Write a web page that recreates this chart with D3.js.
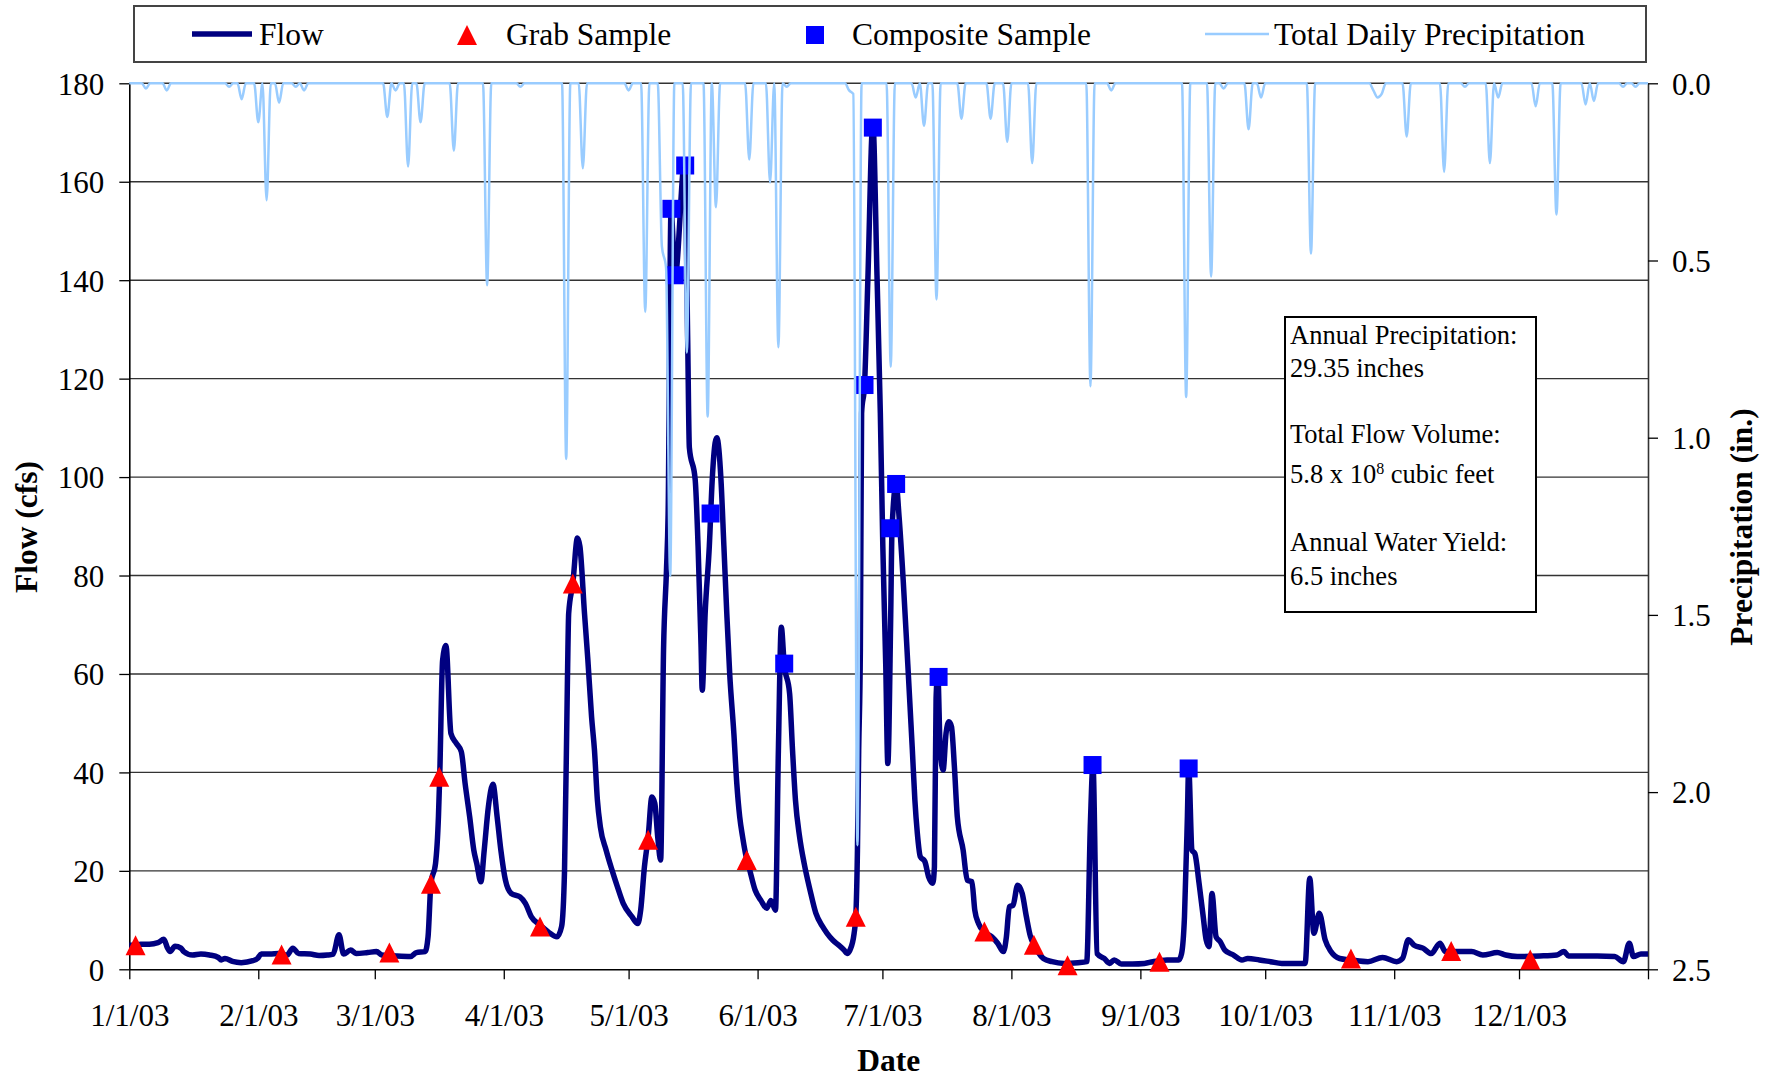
<!DOCTYPE html>
<html>
<head>
<meta charset="utf-8">
<script src="https://cdn.jsdelivr.net/npm/d3@7"></script>
<style>
  body { margin: 0; background: #fff; }
  svg { display: block; font-family: "Liberation Serif", "Times New Roman", serif; }
</style>
</head>
<body>
<svg id="chart" width="1778" height="1078"></svg>
<script>
// daily flow (cfs) as [day of 2003, cfs]
const flow = [
  [0,4.9],[1.5,4.9],[2.7,5.1],[4.8,5.1],[6.9,5.4],[8.3,6.1],[9.2,4.3],[9.8,3.6],[11,4.7],[12.4,4.3],
  [13.1,3.6],[15.2,2.9],[17.2,3.1],[19.3,2.9],[21.4,2.4],[22.1,1.9],[23,2.2],[24.8,1.6],[26.9,1.35],
  [29.7,1.75],[30.8,2.2],[31.7,3.1],[33.8,3.1],[35.9,3.2],[37.9,2.9],[39.3,4.3],[40.7,3.2],[43.5,3.1],
  [45.6,2.8],[47.6,2.9],[49,3.1],[50.4,7.0],[51.5,3.1],[53.2,3.9],[54.5,3.2],[57.3,3.4],[59.4,3.6],
  [60.7,2.9],[64.2,2.7],[67.6,2.6],[69,3.4],[71.1,3.6],[71.8,6.6],[72.5,17.5],[73.6,21.5],[74.3,31],
  [74.6,39],[75.3,62.8],[76.1,65.8],[77.3,47.9],[78.6,45.9],[79.8,44.2],[80.7,37.8],[81.8,31],[82.8,24.2],
  [83.5,21.5],[84.5,17.8],[85.3,24.2],[86.3,33],[87.4,37.6],[88.4,31],[89.3,24.2],[90.4,18.1],[91.8,15.4],
  [93.9,14.7],[95.2,13.4],[96.6,10.7],[98.7,9.0],[100.7,7.6],[102.8,6.6],[103.9,8.7],[104.6,20],[105.3,58.8],
  [105.6,72.3],[106.6,78.4],[107.7,87.6],[108.3,85.9],[109.4,72.3],[110.2,63],[111.1,51.3],[111.8,44.5],
  [112.5,34.4],[113.2,29],[114.6,24.2],[116,20.2],[117.3,16.8],[118.7,13.4],[120.8,10.7],[122.2,9.3],
  [122.9,12],[123.8,20.8],[124.7,26.9],[125.6,35],[126.3,33.7],[127,26.9],[127.7,22.2],[128.4,65],
  [129.1,81],[129.5,92.6],[130.2,154],[131.2,141],[133.5,164.5],[134.2,128],[134.6,106],[136,99.5],
  [136.7,85.9],[137.4,66],[137.7,56.7],[138.4,72.3],[139.4,85.9],[140.1,99.5],[140.8,107],[141.2,108],
  [142.2,99.5],[142.9,86],[143.6,72.3],[144.3,60],[145.3,47.9],[146,37.8],[146.7,31],[147.4,26.9],
  [148.1,23.5],[149.1,20.2],[150.4,16.1],[151.8,14],[153.2,12.4],[154.2,14],[155.3,12],[156,44.5],
  [156.7,69.5],[157.4,62],[158.7,56],[159.4,44.5],[160.1,34.4],[161.1,26.9],[162.2,21.5],[163.6,16.1],
  [165,11.4],[166.6,8.7],[167.7,7.3],[169.1,5.9],[170.5,4.9],[171.8,3.9],[172.5,3.2],[173.2,3.9],
  [174.2,7.3],[174.6,10.7],[175,24.2],[175.3,44.5],[175.7,65],[176,113],[176.7,118.7],[177.5,140],
  [178.7,171.9],[179.7,141],[180.5,113],[181.1,85.9],[181.8,62],[182.3,41.8],[183,72],[183.3,89.2],
  [184.3,98.6],[185,92],[186,79],[187.1,62],[188.2,44.5],[188.8,34.4],[189.4,27.6],[190.1,22.9],
  [191.2,21.9],[192.1,18.8],[193.1,17.5],[193.5,20.8],[193.9,55],[194.3,60.1],[194.9,44.5],[195.6,40.5],
  [196.3,48],[197,50.3],[197.6,49.3],[198.3,41.2],[199,31],[200.4,24.2],[201.4,18.1],[202.5,17.8],
  [203.2,12],[204.1,9.3],[205.5,7.6],[207.3,6.6],[208.7,5.3],[210.1,3.6],[210.8,6.6],[211.5,12.7],
  [212.4,13],[213.5,17.1],[214.6,15.4],[215.6,10.7],[216.6,6.6],[217.4,5],[218.3,3.6],[219.7,2.2],
  [221.8,1.55],[224.6,1.2],[228,1.35],[230.1,1.55],[231,30],[231.6,41.5],[232.6,3.2],[234.3,2.2],
  [235.6,1.2],[236.7,1.9],[238.4,1.1],[241.1,1.1],[244,1.2],[246,1.55],[249.4,1.9],[252.2,1.9],
  [252.9,3.2],[253.6,10.7],[254.3,31],[254.6,41],[255.4,24.2],[256.1,23.5],[257.1,17.5],[258.1,10.7],
  [258.8,6],[259.5,4.6],[260.2,15.4],[261.2,6.6],[262.2,5.6],[263.3,3.9],[265.4,2.9],[267.4,1.9],
  [268.8,2.2],[271.6,1.9],[274.3,1.55],[277,1.2],[282.6,1.2],[283.7,18.5],[284.7,7.3],[286,11.4],
  [287.4,6],[288.8,3.6],[290.9,2.2],[293.6,1.9],[297.7,1.55],[301.2,2.4],[304.6,1.55],[306,2.2],
  [307.4,6],[308.8,4.9],[310.9,4.3],[312.9,3.2],[315,5.3],[316.3,3.6],[318.4,3.6],[322.6,3.6],
  [325.3,2.9],[328.8,3.4],[330.8,2.9],[333.6,2.6],[339,2.7],[343.1,2.9],[344.8,3.6],[345.9,2.7],
  [352.8,2.7],[357,2.6],[359.1,1.55],[360.5,5.3],[361.5,2.6],[363.3,3.1],[365,3.1]
];

const grabSamples = [
  [1.5,4.9],[36.6,3.0],[62.5,3.4],[72.5,17.4],[74.5,39.1],[98.7,8.7],[106.6,78.4],[124.7,26.3],
  [148.4,22.2],[174.6,10.7],[205.5,7.7],[217.4,5.0],[225.5,0.8],[247.6,1.55],[293.6,2.2],[317.7,3.7],
  [336.7,2.0]
];

const compositeSamples = [
  [130.3,154.5],[131.1,141],[133.6,163.3],[139.7,92.6],[157.4,62.1],[176.7,118.7],[178.7,171],
  [182.9,89.6],[184.3,98.6],[194.5,59.4],[231.5,41.5],[254.6,40.8]
];

// days with rain (inches); every other day of the year is 0
const rainfall = [
  [4,0.015],[9,0.02],[24,0.01],[27,0.045],[31,0.11],[33,0.33],[36,0.055],[40,0.01],[42,0.02],[62,0.095],
  [64,0.02],[67,0.235],[70,0.11],[78,0.19],[86,0.57],[94,0.01],[105,1.06],[109,0.24],[120,0.02],[124,0.645],
  [128,0.46],[129,0.52],[130,1.39],[134,0.76],[139,0.94],[141,0.35],[149,0.215],[154,0.28],[156,0.745],
  [158,0.01],[173,0.02],[174,0.03],[175,2.15],[183,0.80],[189,0.04],[191,0.12],[194,0.61],[200,0.10],
  [207,0.10],[211,0.165],[217,0.225],[231,0.855],[236,0.02],[254,0.885],[260,0.545],[263,0.015],
  [269,0.13],[272,0.04],[284,0.48],[299,0.02],[300,0.04],[301,0.03],[307,0.15],[316,0.25],[321,0.01],
  [327,0.225],[329,0.04],[338,0.065],[343,0.37],[350,0.06],[352,0.05],[359,0.01],[362,0.01]
];

const flowTicks = [0, 20, 40, 60, 80, 100, 120, 140, 160, 180];
const rainTicks = [0, 0.5, 1.0, 1.5, 2.0, 2.5];
const monthLabels = ["1/1/03","2/1/03","3/1/03","4/1/03","5/1/03","6/1/03","7/1/03",
                     "8/1/03","9/1/03","10/1/03","11/1/03","12/1/03",""];
const noteLines = ["Annual Precipitation:", "29.35 inches", "Total Flow Volume:",
                   "5.8 x 10", "Annual Water Yield:", "6.5 inches"];

const serif = '"Liberation Serif", "Times New Roman", serif';
const t0 = Date.UTC(2003, 0, 1);
const toDate = d => new Date(t0 + d * 864e5);

const svg = d3.select("#chart");
svg.append("rect").attr("width", 1778).attr("height", 1078).attr("fill", "#fff");

const plotLeft = 129.3, plotRight = 1648, plotTop = 83.3, plotBottom = 969.3;
const x = d3.scaleUtc().domain([toDate(0), toDate(365)]).range([plotLeft, plotRight]);
const y = d3.scaleLinear().domain([0, 180]).range([plotBottom, plotTop]);
const yR = d3.scaleLinear().domain([0, 2.5]).range([plotTop, plotBottom]);

// gridlines
svg.append("g")
  .selectAll("line")
  .data(flowTicks.slice(1))
  .join("line")
  .attr("x1", plotLeft).attr("x2", plotRight)
  .attr("y1", d => y(d)).attr("y2", d => y(d))
  .attr("stroke", "#333").attr("stroke-width", 1.4);

// axes
function styleAxis(g) {
  g.attr("font-family", serif).attr("font-size", 31);
  g.selectAll("text").attr("fill", "#000");
  g.selectAll("line").attr("stroke", "#000").attr("stroke-width", 1.3);
  g.select(".domain").attr("stroke", "#000").attr("stroke-width", 1.6);
}

svg.append("g")
  .attr("transform", `translate(${plotLeft},0)`)
  .call(d3.axisLeft(y).tickValues(flowTicks).tickFormat(d3.format("d"))
    .tickSize(10).tickSizeOuter(0).tickPadding(15))
  .call(styleAxis)
  .call(g => g.selectAll("text").attr("dy", "0.35em"));

svg.append("g")
  .attr("transform", `translate(${plotRight},0)`)
  .call(d3.axisRight(yR).tickValues(rainTicks).tickFormat(d3.format(".1f"))
    .tickSize(10).tickSizeOuter(0).tickPadding(14))
  .call(styleAxis)
  .call(g => g.select(".domain").attr("stroke", "#333"))
  .call(g => g.selectAll("text").attr("dy", "0.35em"));

const monthDates = d3.utcMonth.range(toDate(0), toDate(366));
svg.append("g")
  .attr("transform", `translate(0,${plotBottom})`)
  .call(d3.axisBottom(x).tickValues(monthDates).tickFormat((d, i) => monthLabels[i])
    .tickSize(10).tickSizeOuter(0))
  .call(styleAxis)
  .call(g => g.selectAll("text").attr("y", 57).attr("dy", 0));

// axis titles
svg.append("text")
  .attr("transform", "translate(37,527) rotate(-90)")
  .attr("text-anchor", "middle").attr("font-weight", "bold").attr("font-size", 31.5)
  .text("Flow (cfs)");
svg.append("text")
  .attr("transform", "translate(1752,527) rotate(-90)")
  .attr("text-anchor", "middle").attr("font-weight", "bold").attr("font-size", 31.5)
  .text("Precipitation (in.)");
svg.append("text")
  .attr("x", (plotLeft + plotRight) / 2).attr("y", 1071)
  .attr("text-anchor", "middle").attr("font-weight", "bold").attr("font-size", 31.5)
  .text("Date");

// note box
const note = svg.append("g");
note.append("rect")
  .attr("x", 1285).attr("y", 317).attr("width", 251).attr("height", 295)
  .attr("fill", "#fff").attr("stroke", "#000").attr("stroke-width", 2);
const noteY = [344, 377, 443, 483, 551, 585];
note.selectAll("text")
  .data(noteLines)
  .join("text")
  .attr("x", 1290).attr("y", (d, i) => noteY[i])
  .attr("font-size", 26.5)
  .each(function (d, i) {
    const t = d3.select(this);
    t.append("tspan").text(d);
    if (i === 3) {
      t.append("tspan").attr("font-size", 16).attr("dy", -9).text("8");
      t.append("tspan").attr("dy", 9).text(" cubic feet");
    }
  });

// flow line
svg.append("path")
  .datum(flow)
  .attr("fill", "none")
  .attr("stroke", "#000080")
  .attr("stroke-width", 5.5)
  .attr("stroke-linejoin", "round")
  .attr("d", d3.line().curve(d3.curveMonotoneX)
    .x(d => x(toDate(d[0]))).y(d => y(d[1])));

const triPath = "M0,-10L10,10L-10,10Z";
svg.append("g")
  .selectAll("path")
  .data(grabSamples)
  .join("path")
  .attr("d", triPath)
  .attr("transform", d => `translate(${x(toDate(d[0]))},${y(d[1])})`)
  .attr("fill", "#ff0000");

svg.append("g")
  .selectAll("rect")
  .data(compositeSamples)
  .join("rect")
  .attr("x", d => x(toDate(d[0])) - 9).attr("y", d => y(d[1]) - 9)
  .attr("width", 18).attr("height", 18)
  .attr("fill", "#0000ff");

// precipitation line, drawn last
const rainByDay = new Map(rainfall);
const rainDaily = d3.range(0, 366).map(d => [d, rainByDay.get(d) || 0]);
svg.append("path")
  .datum(rainDaily)
  .attr("fill", "none")
  .attr("stroke", "#99ccff")
  .attr("stroke-width", 2.5)
  .attr("d", d3.line().curve(d3.curveMonotoneX)
    .x(d => x(toDate(d[0]))).y(d => yR(d[1])));

// legend
const legend = svg.append("g").attr("font-size", 31.5);
legend.append("rect")
  .attr("x", 134).attr("y", 6).attr("width", 1512).attr("height", 56)
  .attr("fill", "#fff").attr("stroke", "#444").attr("stroke-width", 2);
legend.append("line").attr("x1", 192).attr("x2", 252).attr("y1", 34).attr("y2", 34)
  .attr("stroke", "#000080").attr("stroke-width", 5.5);
legend.append("text").attr("x", 259).attr("y", 45).text("Flow");
legend.append("path").attr("d", triPath).attr("transform", "translate(467,35)").attr("fill", "#ff0000");
legend.append("text").attr("x", 506).attr("y", 45).text("Grab Sample");
legend.append("rect").attr("x", 806).attr("y", 26).attr("width", 18).attr("height", 18).attr("fill", "#0000ff");
legend.append("text").attr("x", 852).attr("y", 45).text("Composite Sample");
legend.append("line").attr("x1", 1205).attr("x2", 1269).attr("y1", 34).attr("y2", 34)
  .attr("stroke", "#99ccff").attr("stroke-width", 2.5);
legend.append("text").attr("x", 1274).attr("y", 45).text("Total Daily Precipitation");
</script>
</body>
</html>
